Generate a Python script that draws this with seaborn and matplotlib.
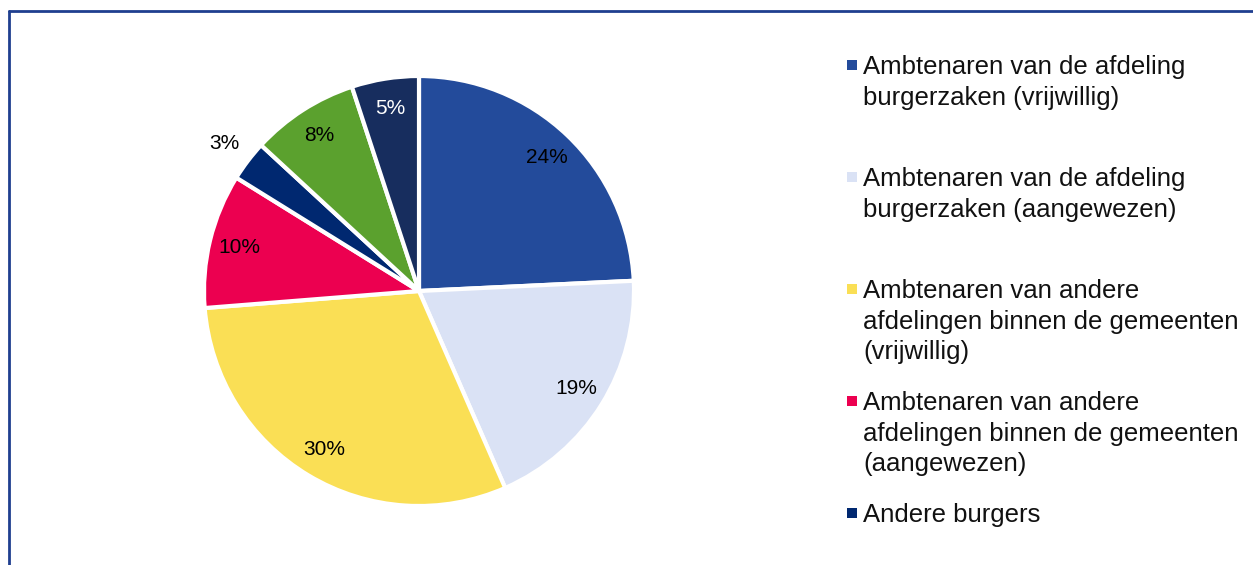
import matplotlib
matplotlib.use("Agg")
import matplotlib.pyplot as plt
import seaborn as sns
from matplotlib.patches import Rectangle
from matplotlib.lines import Line2D

# data, clockwise from 12 o'clock
values = [24, 19, 30, 10, 3, 8, 5]
colors = ["#234B9B", "#DAE2F5", "#FADF55", "#EC0050", "#002870", "#5BA12E", "#172D5E"]
label_colors = ["black", "black", "black", "black", "black", "black", "white"]
legend_labels = [
    "Ambtenaren van de afdeling\nburgerzaken (vrijwillig)",
    "Ambtenaren van de afdeling\nburgerzaken (aangewezen)",
    "Ambtenaren van andere\nafdelingen binnen de gemeenten\n(vrijwillig)",
    "Ambtenaren van andere\nafdelingen binnen de gemeenten\n(aangewezen)",
    "Andere burgers",
]

sns.set_theme(style="white")
plt.rcParams["font.family"] = ["Liberation Sans", "DejaVu Sans"]

W, H = 1253, 565
fig = plt.figure(figsize=(W / 100, H / 100), dpi=100)

# pie axes, centre ~ (419, 291) px, radius ~215 px
size = 215 * 1.25 * 2
cx, cy = 419, H - 291
ax = fig.add_axes([(cx - size / 2) / W, (cy - size / 2) / H, size / W, size / H])
wedges, texts, autotexts = ax.pie(
    values, colors=colors, startangle=90, counterclock=False,
    autopct=lambda p: f"{round(p)}%", pctdistance=0.86,
    wedgeprops=dict(edgecolor="white", linewidth=3),
    textprops=dict(fontsize=15),
)
for t, v, c in zip(autotexts, values, label_colors):
    t.set_text(f"{v}%")
    t.set_color(c)
# small slice label sits outside the pie
x, y = autotexts[4].get_position()
autotexts[4].set_position((x * 1.32, y * 1.32))
ax.set_xlim(-1.25, 1.25)
ax.set_ylim(-1.25, 1.25)
ax.set_aspect("equal")

# legend, entries on a fixed step
for i, lab in enumerate(legend_labels):
    base = 74 + i * 112
    fig.patches.append(Rectangle((847 / W, 1 - (base - 4) / H), 10 / W, 10 / H,
                                 transform=fig.transFigure, facecolor=colors[i], edgecolor="none"))
    fig.text(863 / W, 1 - (base - 19) / H, lab, fontsize=18.5, va="top", ha="left",
             linespacing=1.35, color="#111111")

# frame around the chart (left and top visible)
border = "#1F3F8F"
fig.add_artist(Line2D([8.5 / W, 8.5 / W], [0, 1 - 10.5 / H], transform=fig.transFigure, color=border, lw=2))
fig.add_artist(Line2D([8.5 / W, 1], [1 - 10.5 / H, 1 - 10.5 / H], transform=fig.transFigure, color=border, lw=2))

plt.savefig("out.png", dpi=100)
plt.close("all")
